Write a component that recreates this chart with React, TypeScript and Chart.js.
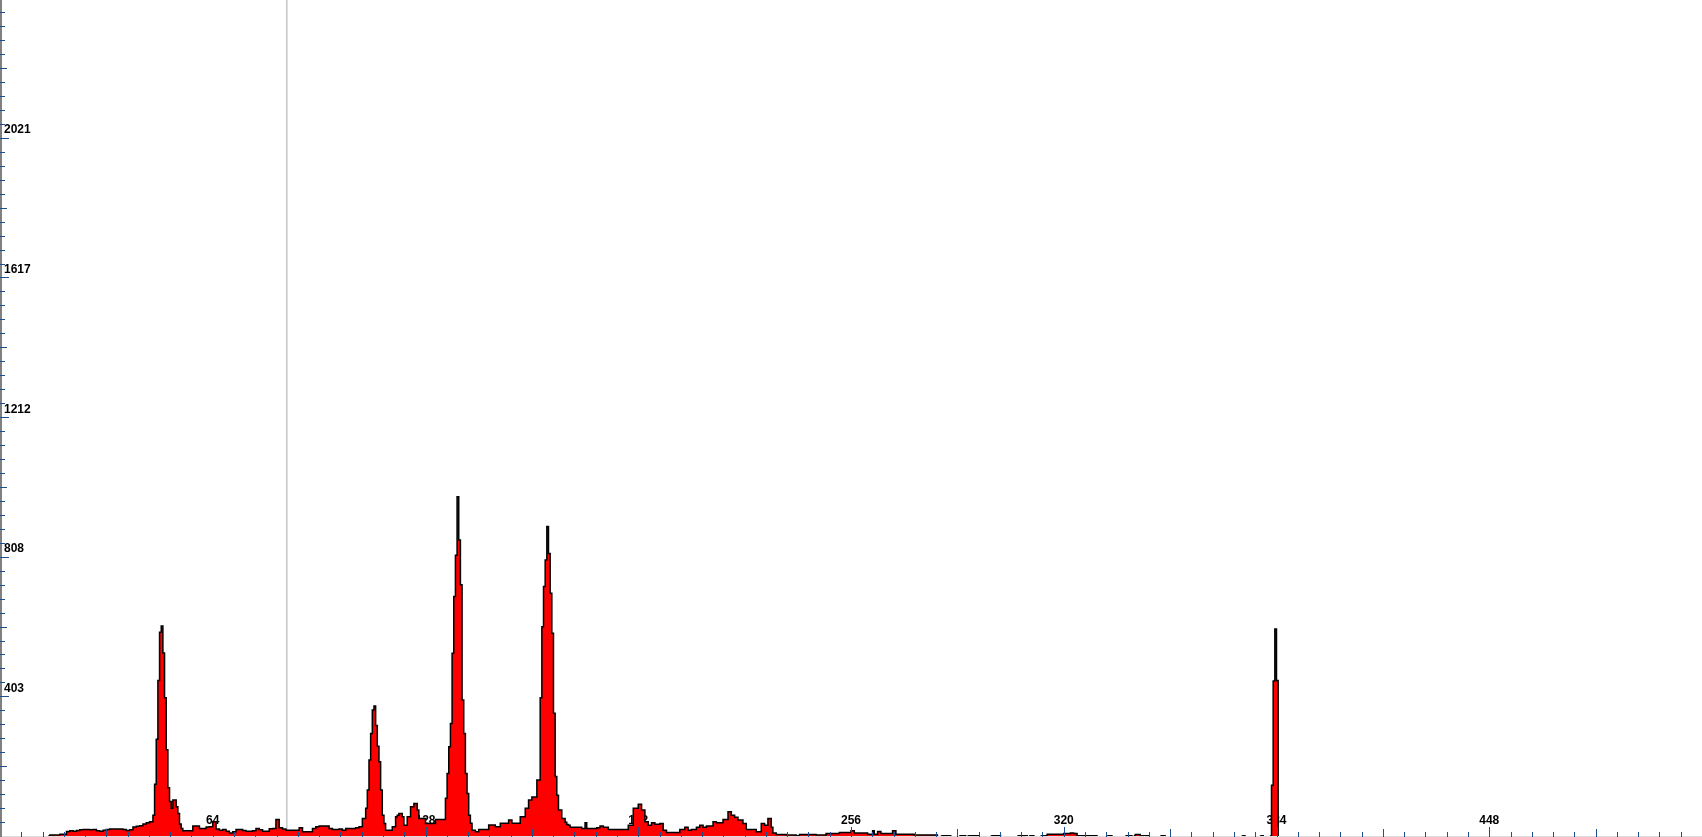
import React, { useEffect, useRef } from "react";
import { Chart, registerables } from "chart.js";

Chart.register(...registerables);

// Histogram counts, one per half-unit bin (bin i covers i/2 .. i/2 + 0.5), 1024 bins over 0..512
const binCounts: number[] = [
  0, 0, 0, 0, 0, 0, 0, 0, 0, 0, 0, 0, 0, 0, 0, 0, 0, 0, 0, 0, 0, 0, 0, 0, 0, 0, 0, 0, 0, 0, 3, 3,
  3, 3, 3, 3, 5, 5, 5, 5, 13, 13, 15, 15, 14, 14, 16, 16, 18, 18, 19, 19, 19, 19, 18, 18, 19, 19, 15, 15, 14, 14, 17, 17,
  19, 19, 20, 20, 20, 20, 20, 20, 20, 20, 19, 19, 16, 16, 18, 18, 26, 26, 28, 28, 30, 30, 35, 35, 38, 38, 41, 41, 60, 150, 280, 450,
  590, 608, 530, 400, 250, 140, 100, 80, 104, 104, 85, 65, 35, 22, 15, 15, 15, 15, 15, 15, 29, 29, 29, 29, 22, 22, 22, 22, 26, 26, 27, 27,
  41, 41, 20, 20, 17, 17, 19, 19, 14, 14, 9, 9, 12, 12, 19, 19, 19, 19, 16, 16, 14, 14, 14, 14, 15, 15, 22, 22, 18, 18, 14, 14,
  14, 14, 21, 21, 22, 22, 48, 48, 24, 24, 20, 20, 17, 17, 17, 17, 17, 17, 17, 17, 24, 24, 12, 12, 12, 12, 12, 12, 22, 22, 27, 27,
  29, 29, 29, 29, 29, 29, 22, 22, 19, 19, 19, 19, 20, 20, 17, 17, 22, 22, 22, 22, 22, 22, 24, 24, 27, 27, 51, 51, 80, 133, 220, 297,
  365, 376, 320, 260, 215, 133, 60, 36, 17, 17, 17, 17, 27, 27, 56, 60, 65, 65, 56, 31, 31, 56, 56, 85, 85, 94, 94, 75, 51, 51, 51, 51,
  36, 36, 36, 36, 36, 36, 48, 48, 48, 48, 48, 48, 109, 181, 258, 326, 529, 693, 813, 982, 857, 727, 394, 297, 181, 123, 60, 37, 17, 17, 12, 12,
  19, 19, 19, 19, 19, 19, 32, 32, 32, 32, 27, 27, 27, 37, 37, 37, 37, 37, 46, 46, 37, 37, 37, 37, 37, 56, 56, 56, 80, 80, 104, 104,
  113, 113, 113, 162, 162, 400, 606, 722, 799, 896, 818, 703, 587, 355, 172, 118, 75, 75, 51, 51, 40, 33, 31, 25, 25, 25, 25, 25, 25, 25, 22, 22,
  38, 22, 22, 22, 22, 22, 22, 24, 24, 29, 29, 25, 25, 25, 19, 19, 19, 19, 19, 19, 19, 19, 19, 19, 19, 19, 31, 31, 31, 80, 80, 80,
  92, 92, 75, 75, 41, 41, 31, 31, 38, 38, 34, 34, 34, 36, 36, 17, 17, 10, 10, 10, 10, 10, 10, 10, 10, 19, 19, 19, 25, 25, 17, 17,
  19, 19, 19, 25, 25, 31, 31, 25, 25, 29, 29, 29, 29, 41, 41, 38, 38, 38, 38, 48, 48, 48, 70, 70, 60, 60, 54, 54, 46, 46, 46, 36,
  36, 19, 19, 19, 19, 19, 19, 12, 12, 12, 36, 36, 31, 31, 51, 51, 25, 9, 9, 4, 4, 4, 4, 4, 4, 3, 3, 3, 3, 3, 3, 1,
  1, 4, 4, 4, 4, 4, 4, 4, 4, 4, 4, 3, 3, 3, 3, 3, 3, 7, 7, 7, 7, 7, 7, 7, 7, 10, 10, 10, 10, 10, 10, 10,
  15, 15, 9, 9, 9, 9, 9, 9, 9, 9, 5, 5, 5, 15, 5, 5, 13, 13, 7, 7, 7, 7, 7, 7, 7, 15, 15, 5, 5, 5, 5, 5,
  5, 5, 5, 5, 5, 5, 3, 3, 3, 3, 3, 3, 3, 3, 3, 3, 3, 3, 3, 3, 0, 0, 0, 1, 1, 1, 1, 1, 0, 0, 0, 0,
  0, 0, 1, 1, 1, 0, 0, 1, 1, 1, 1, 1, 1, 0, 0, 0, 0, 0, 0, 0, 0, 1, 1, 1, 1, 1, 0, 0, 0, 0, 0, 0,
  0, 0, 0, 0, 0, 1, 1, 1, 1, 1, 0, 0, 1, 1, 0, 0, 0, 0, 0, 1, 1, 1, 5, 5, 5, 5, 5, 5, 5, 5, 5, 5,
  7, 7, 7, 7, 9, 9, 7, 7, 1, 1, 1, 1, 1, 1, 1, 1, 1, 1, 1, 1, 0, 0, 0, 0, 0, 0, 0, 1, 1, 0, 0, 0,
  0, 0, 0, 0, 0, 0, 1, 1, 1, 0, 0, 4, 4, 4, 1, 1, 1, 1, 1, 0, 0, 0, 0, 0, 0, 0, 0, 1, 1, 0, 0, 0,
  0, 0, 0, 0, 0, 0, 0, 0, 0, 0, 0, 0, 0, 0, 0, 0, 0, 0, 0, 0, 0, 0, 0, 0, 0, 0, 0, 0, 0, 0, 0, 0,
  0, 0, 0, 0, 0, 0, 0, 0, 0, 0, 0, 0, 1, 0, 0, 0, 0, 0, 0, 0, 0, 0, 0, 1, 0, 0, 0, 0, 0, 147, 449, 599,
  450, 0, 0, 0, 0, 0, 0, 0, 0, 0, 0, 0, 0, 0, 0, 0, 0, 0, 0, 0, 0, 0, 0, 0, 0, 0, 0, 0, 0, 0, 0, 0,
  0, 0, 0, 0, 0, 0, 0, 0, 0, 0, 0, 0, 0, 0, 0, 0, 0, 0, 0, 0, 0, 0, 0, 0, 0, 0, 0, 0, 0, 0, 0, 0,
  0, 0, 0, 0, 0, 0, 0, 0, 0, 0, 0, 0, 0, 0, 0, 0, 0, 0, 0, 0, 0, 0, 0, 0, 0, 0, 0, 0, 0, 0, 0, 0,
  0, 0, 0, 0, 0, 0, 0, 0, 0, 0, 0, 0, 0, 0, 0, 0, 0, 0, 0, 0, 0, 0, 0, 0, 0, 0, 0, 0, 0, 0, 0, 0,
  0, 0, 0, 0, 0, 0, 0, 0, 0, 0, 0, 0, 0, 0, 0, 0, 0, 0, 0, 0, 0, 0, 0, 0, 0, 0, 0, 0, 0, 0, 0, 0,
  0, 0, 0, 0, 0, 0, 0, 0, 0, 0, 0, 0, 0, 0, 0, 0, 0, 0, 0, 0, 0, 0, 0, 0, 0, 0, 0, 0, 0, 0, 0, 0,
  0, 0, 0, 0, 0, 0, 0, 0, 0, 0, 0, 0, 0, 0, 0, 0, 0, 0, 0, 0, 0, 0, 0, 0, 0, 0, 0, 0, 0, 0, 0, 0,
  0, 0, 0, 0, 0, 0, 0, 0, 0, 0, 0, 0, 0, 0, 0, 0, 0, 0, 0, 0, 0, 0, 0, 0, 0, 0, 0, 0, 0, 0, 0, 0,
];

const BIN_WIDTH = 0.5;
const xTickLabels = [64, 128, 192, 256, 320, 384, 448];
const yTickLabels = [403, 808, 1212, 1617, 2021];
const markerPositions = [86.3];

const X_MAX = 512;
const Y_MAX = 2420;
const X_MINOR_STEP = 6.4;
const Y_MINOR_STEP = 2021 / 50;

const TICK_COLOR = "#1e4f8f";
const FONT = { family: "'Liberation Sans', Arial, sans-serif", size: 12, weight: "bold" as const };

const innerTicksPlugin = {
  id: "innerTicks",
  afterDatasetsDraw(chart: any) {
    const { ctx, chartArea, scales } = chart;
    const xs = scales.x;
    const ys = scales.y;
    ctx.save();
    ctx.strokeStyle = TICK_COLOR;
    ctx.lineWidth = 1;
    ctx.beginPath();
    for (let k = 1; k * Y_MINOR_STEP <= ys.max; k++) {
      const py = Math.round(ys.getPixelForValue(k * Y_MINOR_STEP)) + 0.5;
      const len = k % 10 === 0 ? 9 : k % 5 === 0 ? 7 : 5;
      ctx.moveTo(chartArea.left, py);
      ctx.lineTo(chartArea.left + len, py);
    }
    const base = chart.height;
    for (let k = 1; k * X_MINOR_STEP < xs.max; k++) {
      const px = Math.round(xs.getPixelForValue(k * X_MINOR_STEP)) + 0.5;
      const len = k % 10 === 0 ? 10 : k % 5 === 0 ? 8 : 5;
      ctx.moveTo(px, base);
      ctx.lineTo(px, base - len);
    }
    ctx.stroke();
    ctx.restore();
  },
};

export default function App() {
  const ref = useRef<HTMLCanvasElement>(null);

  useEffect(() => {
    const histogram = binCounts.map((c, i) => ({ x: i * BIN_WIDTH, y: c }));
    histogram.push({ x: binCounts.length * BIN_WIDTH, y: binCounts[binCounts.length - 1] });
    const marker = markerPositions.flatMap((m) => [
      { x: m, y: 0 },
      { x: m, y: Y_MAX },
    ]);

    const chart = new Chart(ref.current as HTMLCanvasElement, {
      type: "line",
      data: {
        datasets: [
          {
            label: "histogram",
            data: histogram,
            stepped: true,
            fill: "origin",
            backgroundColor: "#ff0000",
            borderColor: "#000000",
            borderWidth: 1.5,
            pointRadius: 0,
            order: 1,
            segment: {
              borderColor: (c: any) =>
                c.p0.parsed.y === 0 && c.p1.parsed.y === 0 ? "rgba(0,0,0,0)" : "#000000",
            },
          } as any,
          {
            label: "marker",
            data: marker,
            borderColor: "#a8a8a8",
            borderWidth: 1,
            pointRadius: 0,
            fill: false,
            order: 2,
          },
        ],
      },
      options: {
        responsive: false,
        animation: false,
        events: [],
        layout: { padding: { left: 0, right: 0, top: 0, bottom: 1 } },
        plugins: { legend: { display: false }, tooltip: { enabled: false } },
        scales: {
          x: {
            type: "linear",
            min: 0,
            max: X_MAX,
            z: 1,
            grid: { display: false, drawTicks: false },
            border: { display: true, color: "#dcdcdc", width: 1 },
            afterBuildTicks: (scale: any) => {
              scale.ticks = xTickLabels.map((v) => ({ value: v }));
            },
            afterFit: (scale: any) => {
              scale.height = 0;
              scale.paddingLeft = 0;
              scale.paddingRight = 0;
              scale.paddingTop = 0;
              scale.paddingBottom = 0;
            },
            ticks: {
              mirror: true,
              padding: 8,
              maxRotation: 0,
              autoSkip: false,
              color: "#000000",
              font: FONT,
              callback: (v: any) => String(v),
            },
          },
          y: {
            type: "linear",
            min: 0,
            max: Y_MAX,
            z: 1,
            grid: { display: false, drawTicks: false },
            border: { display: true, color: "#808080", width: 3 },
            afterBuildTicks: (scale: any) => {
              scale.ticks = yTickLabels.map((v) => ({ value: v }));
            },
            afterFit: (scale: any) => {
              scale.width = 0;
              scale.paddingLeft = 0;
              scale.paddingRight = 0;
              scale.paddingTop = 0;
              scale.paddingBottom = 0;
            },
            ticks: {
              mirror: true,
              padding: 4,
              labelOffset: -8,
              autoSkip: false,
              color: "#000000",
              font: FONT,
              callback: (v: any) => String(v),
            },
          },
        },
      },
      plugins: [innerTicksPlugin],
    });
    return () => chart.destroy();
  }, []);

  return (
    <div style={{ position: "fixed", left: 0, top: 0, width: 1702, height: 837, background: "#ffffff" }}>
      <canvas ref={ref} width={1702} height={837} style={{ display: "block" }} />
    </div>
  );
}
